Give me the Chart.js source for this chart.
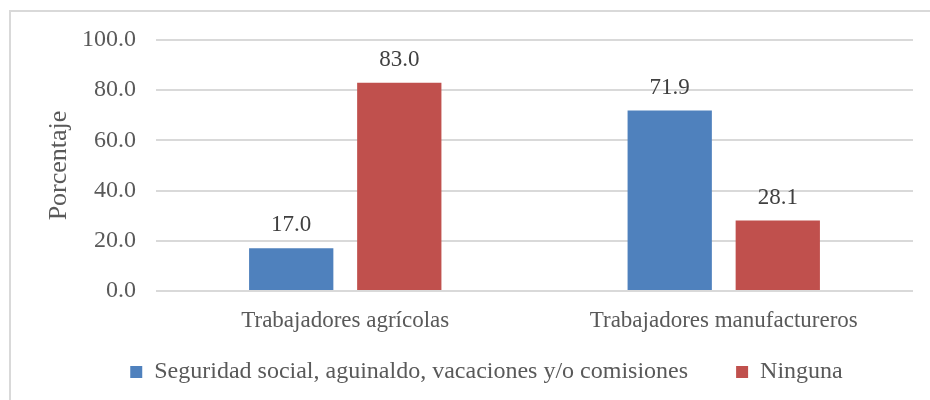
<!DOCTYPE html>
<html>
<head>
<meta charset="utf-8">
<script src="https://cdn.jsdelivr.net/npm/chart.js@4.4.0/dist/chart.umd.min.js"></script>
<style>
  html, body { margin: 0; padding: 0; background: #fff; }
  #wrap { position: relative; width: 930px; height: 400px; }
  #frame { position: absolute; left: 9px; top: 10px; right: 0; bottom: 0;
           border-left: 2px solid #d9d9d9; border-top: 2px solid #d9d9d9; pointer-events: none; }
</style>
</head>
<body>
<div id="wrap">
  <canvas id="chart" width="930" height="400"></canvas>
  <div id="frame"></div>
</div>
<script>
// ---------- Data ----------
const categories = ['Trabajadores agrícolas', 'Trabajadores manufactureros'];
const seriesNames = ['Seguridad social, aguinaldo, vacaciones y/o comisiones', 'Ninguna'];
const prestaciones = [17.0, 71.9];
const ninguna = [83.0, 28.1];
const yTicks = [0, 20, 40, 60, 80, 100];

const FONT = "'Liberation Serif', 'Times New Roman', serif";
const TEXT = '#595959';
Chart.defaults.font.family = FONT;
Chart.defaults.font.size = 23;
Chart.defaults.color = TEXT;

// ---------- Value labels above bars ----------
const valueLabels = {
  id: 'valueLabels',
  afterDatasetsDraw(chart) {
    const ctx = chart.ctx;
    ctx.save();
    ctx.font = `23px ${FONT}`;
    ctx.fillStyle = '#404040';
    ctx.textAlign = 'center';
    ctx.textBaseline = 'middle';
    chart.data.datasets.forEach((ds, i) => {
      chart.getDatasetMeta(i).data.forEach((bar, j) => {
        ctx.fillText(ds.data[j].toFixed(1), bar.x, bar.y - 23);
      });
    });
    ctx.restore();
  }
};

// legend: wide gap between items but a short box, drawn a bit higher
const legendFix = {
  id: 'legendFix',
  beforeInit(chart) {
    const lg = chart.legend;
    const fit = lg.fit;
    lg.fit = function () { fit.call(this); this.height = 58; };
    const draw = lg.draw;
    lg.draw = function () {
      this.top -= 24; this.left += 10; this.right += 10;
      draw.call(this);
      this.top += 24; this.left -= 10; this.right -= 10;
    };
  }
};

new Chart(document.getElementById('chart'), {
  type: 'bar',
  data: {
    labels: categories,
    datasets: [
      { label: seriesNames[0], data: prestaciones, backgroundColor: '#4F81BD' },
      { label: seriesNames[1], data: ninguna, backgroundColor: '#C0504D' }
    ]
  },
  options: {
    responsive: false,
    animation: false,
    devicePixelRatio: 1,
    categoryPercentage: 0.571,
    barPercentage: 0.78,
    layout: { padding: { left: 40, right: 17, top: 40, bottom: 6 } },
    plugins: {
      legend: {
        position: 'bottom',
        labels: {
          font: { family: FONT, size: 24 },
          color: TEXT,
          boxWidth: 12,
          boxHeight: 12,
          padding: 48
        }
      },
      tooltip: { enabled: false }
    },
    scales: {
      x: {
        afterFit(scale) { scale.height = 45; },
        grid: { display: false, drawTicks: false },
        border: { display: false },
        ticks: { font: { family: FONT, size: 23 }, color: TEXT, padding: 16 }
      },
      y: {
        min: 0,
        max: 100,
        afterFit(scale) { scale.width = 116; },
        afterBuildTicks(scale) { scale.ticks = yTicks.map(v => ({ value: v })); },
        grid: { color: '#d9d9d9', lineWidth: 2, drawTicks: false },
        border: { display: false },
        ticks: {
          font: { family: FONT, size: 24 },
          color: TEXT,
          padding: 20,
          callback: v => v.toFixed(1)
        },
        title: {
          display: true,
          text: 'Porcentaje',
          font: { family: FONT, size: 26 },
          color: TEXT,
          padding: { top: 4, bottom: 0 }
        }
      }
    }
  },
  plugins: [valueLabels, legendFix]
});
</script>
</body>
</html>
